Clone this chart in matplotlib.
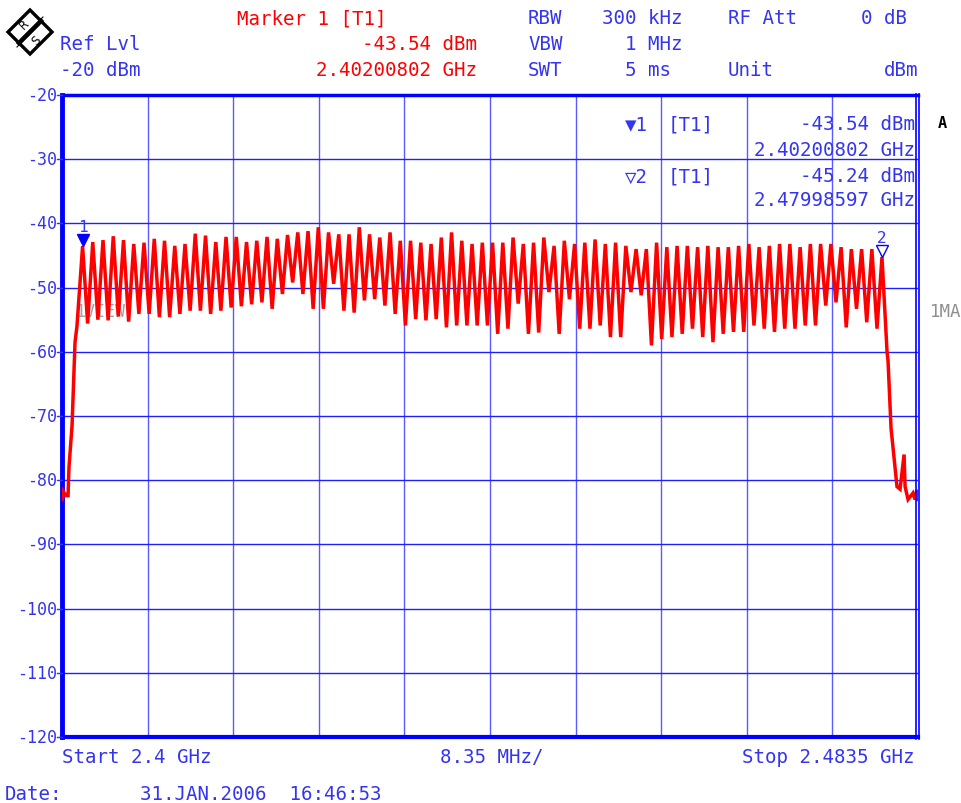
import numpy as np
import matplotlib.pyplot as plt
from matplotlib.patches import Polygon

W, H = 962, 804
BLUE = '#0000ff'
TXT_BLUE = '#3535f0'
RED = '#ff0000'
MONO = 'DejaVu Sans Mono'

# sweep settings
f_start = 2.4
f_stop = 2.4835
ref_lvl = -20
y_bottom = -120

# markers
mk1_freq, mk1_lvl = 2.40200802, -43.54
mk2_freq, mk2_lvl = 2.47998597, -45.24

# rising edge below the first hop channel (GHz, dBm)
left_freq = [2.4, 2.4001, 2.40039, 2.40059, 2.40068, 2.40098, 2.40127, 2.40146]
left_lvl = [-83.0, -81.7, -82.4, -82.4, -78.0, -71.5, -58.5, -56.0]

# peak level of each of the 79 hop channels
peak_lvl = [
    -43.54, -42.9, -42.6, -42.0, -42.6, -43.2, -43.0, -42.4, -42.7, -43.5,
    -43.2, -41.6, -41.9, -42.9, -42.1, -42.1, -42.9, -42.7, -42.1, -42.4,
    -41.8, -41.4, -41.2, -40.6, -41.4, -41.7, -41.7, -40.6, -41.7, -42.2,
    -41.4, -42.7, -42.7, -43.0, -43.2, -42.2, -41.4, -42.7, -43.2, -43.0,
    -43.0, -43.0, -42.2, -43.2, -43.0, -42.2, -43.5, -42.7, -43.2, -43.0,
    -42.5, -43.2, -43.0, -43.5, -44.0, -44.0, -43.0, -43.7, -43.5, -43.5,
    -43.7, -43.5, -43.7, -43.7, -43.5, -43.2, -43.7, -43.5, -43.2, -43.2,
    -43.7, -43.2, -43.2, -43.2, -43.7, -44.0, -44.0, -44.0, -45.24,
]

# dip between neighbouring channels
dip_lvl = [
    -55.6, -55.0, -55.1, -54.5, -55.3, -54.1, -54.1, -54.6, -54.6, -54.1,
    -53.6, -53.6, -54.1, -53.6, -53.1, -52.9, -52.6, -52.3, -53.3, -51.0,
    -49.2, -51.0, -53.3, -53.3, -49.4, -53.6, -53.9, -52.0, -51.8, -52.8,
    -54.1, -55.9, -54.9, -55.1, -54.9, -56.2, -55.9, -55.9, -55.9, -55.9,
    -57.2, -56.4, -52.5, -57.2, -57.0, -50.7, -57.2, -51.8, -56.4, -56.4,
    -55.9, -57.7, -57.7, -50.7, -51.2, -59.0, -58.0, -57.7, -57.2, -56.4,
    -57.7, -58.5, -57.2, -56.9, -56.9, -55.9, -56.4, -56.9, -56.4, -56.4,
    -55.9, -55.9, -52.8, -52.3, -56.2, -53.3, -55.4, -56.4,
]

# falling edge above the last channel
right_freq = [2.48048, 2.48058, 2.48087, 2.48145, 2.48175, 2.48214,
              2.48224, 2.48253, 2.48301, 2.48321, 2.4834, 2.4835]
right_lvl = [-60.0, -61.5, -71.9, -81.0, -81.4, -76.0,
             -81.0, -83.0, -82.0, -83.0, -81.5, -83.0]

# channel centres, 1 MHz apart
chan_freq = 2.402 + 0.001 * np.arange(len(peak_lvl))
chan_freq[0] = mk1_freq
chan_freq[-1] = mk2_freq

trace_f = list(left_freq)
trace_l = list(left_lvl)
for k, p in enumerate(peak_lvl):
    trace_f.append(chan_freq[k])
    trace_l.append(p)
    if k < len(dip_lvl):
        trace_f.append(2.402 + 0.001 * k + 0.0005)
        trace_l.append(dip_lvl[k])
trace_f += right_freq
trace_l += right_lvl


fig = plt.figure(figsize=(W / 100, H / 100), dpi=100)
fig.patch.set_facecolor('white')

ax = fig.add_axes([62 / W, 66 / H, 856 / W, 642 / H])
ax.set_xlim(f_start, f_stop)
ax.set_ylim(y_bottom, ref_lvl)

xgrid = np.linspace(f_start, f_stop, 11)
for xv in xgrid[1:-1]:
    ax.axvline(xv, color='#5a5aff', lw=1.0, zorder=1)
for yv in range(-30, -120, -10):
    ax.axhline(yv, color='#2020ff', lw=1.0, zorder=1)

ax.set_xticks([])
ax.set_yticks([])
for side in ['left', 'bottom', 'top']:
    ax.spines[side].set_color(BLUE)
ax.spines['left'].set_linewidth(3.5)
ax.spines['bottom'].set_linewidth(3.0)
ax.spines['top'].set_linewidth(2.5)
ax.spines['right'].set_visible(False)

ax.text(2.4013, -53.6, '1VIEW', color='#a0a0a0', fontsize=12, family=MONO,
        va='center', zorder=2)

ax.plot(trace_f, trace_l, color=RED, lw=2.5, zorder=3, solid_joinstyle='miter')

# marker symbols
ax.plot([mk1_freq], [mk1_lvl + 0.9], marker='v', ms=9, color=BLUE,
        markeredgecolor=BLUE, ls='none', zorder=4)
ax.plot([mk2_freq], [mk2_lvl + 0.9], marker='v', ms=8, color='white',
        markeredgecolor=BLUE, mew=1.0, ls='none', zorder=4)
ax.text(mk1_freq, mk1_lvl + 1.9, '1', color=TXT_BLUE, fontsize=11.5, family=MONO,
        ha='center', va='bottom', zorder=4)
ax.text(mk2_freq, mk2_lvl + 1.9, '2', color=TXT_BLUE, fontsize=11.5, family=MONO,
        ha='center', va='bottom', zorder=4)

# overlay in pixel units for the frame edge, logo and screen text
ov = fig.add_axes([0, 0, 1, 1], facecolor='none')
ov.set_xlim(0, W)
ov.set_ylim(H, 0)
ov.axis('off')
ov.plot([916.5, 916.5], [95, 740], color=BLUE, lw=1.2)
ov.plot([919.5, 919.5], [95, 740], color=BLUE, lw=1.2)

# logo
ov.add_patch(Polygon([[8, 33], [30, 11], [52, 33], [30, 55]], closed=True,
                     fill=False, ec='black', lw=2.4))
ov.plot([19, 41], [44, 22], color='black', lw=3.2)
ov.plot([21, 43], [40, 18], color='black', lw=0.8)
ov.plot([17, 39], [48, 26], color='black', lw=0.8)
ov.text(24, 25, 'R', fontsize=8.5, family='DejaVu Sans', ha='center', va='center',
        rotation=45, color='black')
ov.text(36, 41, 'S', fontsize=8.5, family='DejaVu Sans', ha='center', va='center',
        rotation=45, color='black')

# y tick labels
for yv in range(-20, -121, -10):
    ypix = 96 + (ref_lvl - yv) / 10 * 64.2
    ov.text(57, ypix, str(yv), color=TXT_BLUE, fontsize=12, family=MONO,
            ha='right', va='center')
    ov.plot([57, 62], [ypix, ypix], color=TXT_BLUE, lw=1.0)


def label(x, y, s, color=TXT_BLUE, ha='left', size=13.8, **kw):
    ov.text(x, y, s, color=color, fontsize=size, family=MONO, ha=ha,
            va='center', **kw)


# header
label(237, 19, 'Marker 1 [T1]', RED)
label(477, 45, f'{mk1_lvl:.2f} dBm', RED, ha='right')
label(477, 71, f'{mk1_freq:.8f} GHz', RED, ha='right')
label(60, 45, 'Ref Lvl')
label(60, 71, f'{ref_lvl} dBm')
label(528, 19, 'RBW')
label(528, 45, 'VBW')
label(528, 71, 'SWT')
label(683, 19, '300 kHz', ha='right')
label(683, 45, '1 MHz', ha='right')
label(671, 71, '5 ms', ha='right')
label(728, 19, 'RF Att')
label(728, 71, 'Unit')
label(907, 19, '0 dB', ha='right')
label(918, 71, 'dBm', ha='right')

# marker table
label(648, 125, '\u25bc1', ha='right')
label(668, 125, '[T1]')
label(915, 125, f'{mk1_lvl:.2f} dBm', ha='right')
label(915, 151, f'{mk1_freq:.8f} GHz', ha='right')
label(648, 177, '\u25bd2', ha='right')
label(668, 177, '[T1]')
label(915, 177, f'{mk2_lvl:.2f} dBm', ha='right')
label(915, 201, f'{mk2_freq:.8f} GHz', ha='right')

label(942, 124, 'A', color='black', ha='center', size=11, fontweight='bold')
label(961, 312, '1MA', color='#909090', ha='right', size=12.5)

# footer
span_mhz = (f_stop - f_start) * 1000 / 10
label(62, 758, f'Start {f_start} GHz')
label(492, 758, f'{span_mhz:.2f} MHz/', ha='center')
label(915, 758, f'Stop {f_stop} GHz', ha='right')
label(5, 795, 'Date:')
label(140, 795, '31.JAN.2006  16:46:53')

fig.savefig('out.png', dpi=100, facecolor='white')
